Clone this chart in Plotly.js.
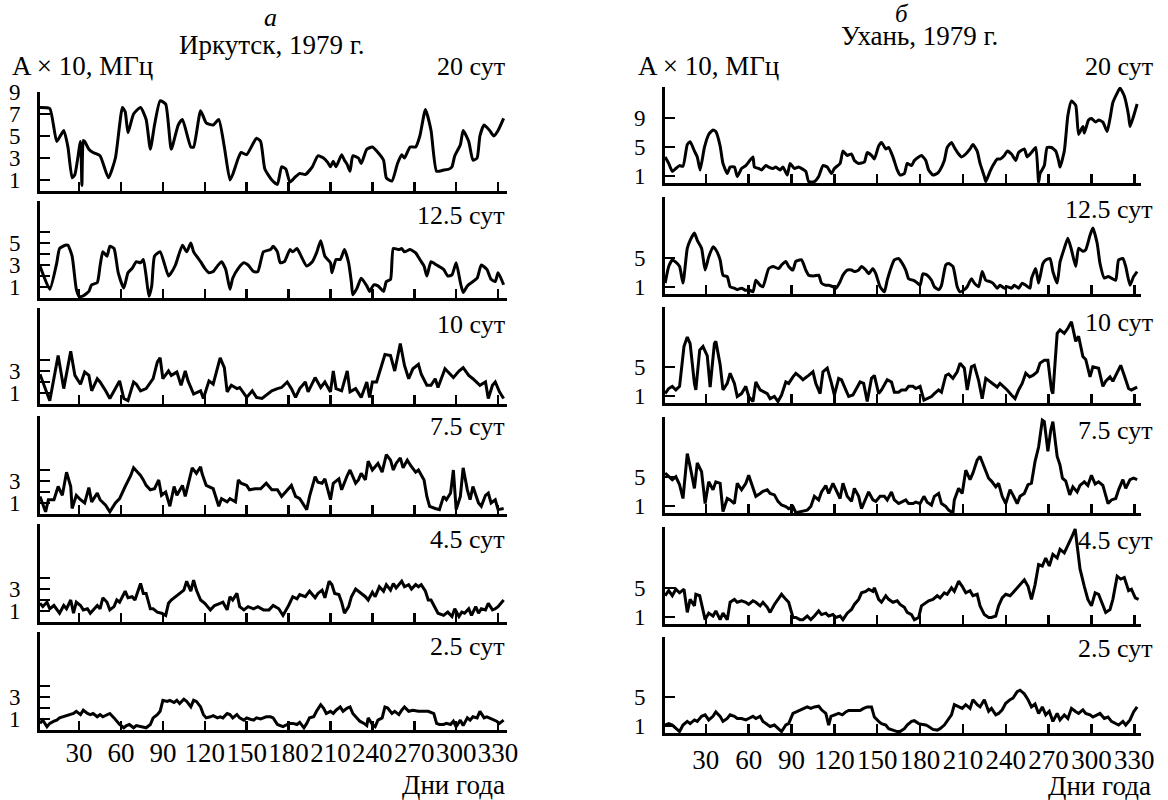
<!DOCTYPE html>
<html>
<head>
<meta charset="utf-8">
<script src="https://cdn.plot.ly/plotly-3.0.1.min.js"></script>
<style>
  html, body { margin: 0; padding: 0; background: #fff; }
  #chart { width: 1168px; height: 800px; }
</style>
</head>
<body>
<div id="chart"></div>
<script>
// ---- Irkutsk, 1979: amplitude (A x 10, MHz) of the planetary-wave components ----
const irkDay20 = [2,9,14,19,22,25,27,31,32,33,34,37,40,45,51,56,61,63,65,69,74,78,81,84,88,92,96,101,104,110,112,117,121,126,130,134,138,140,144,146,150,157,160,163,168,172,175,178,181,185,188,192,197,201,205,208,210,212,214,218,220,222,224,226,230,232,236,240,244,248,250,254,258,261,263,267,271,274,278,282,286,291,295,297,299,303,305,309,312,315,317,320,324,327,330,334];
const irkAmp20 = [7.6,7.5,4.5,5.5,4.0,1.2,1.5,4.5,0.5,4.6,4.5,3.8,3.5,3.2,1.2,3.0,7.6,7.2,5.3,7.0,7.6,6.5,3.8,6.0,8.2,7.9,3.8,6.0,6.5,4.0,4.0,7.3,6.2,6.0,6.5,4.0,1.0,1.5,3.0,3.5,3.3,4.8,4.5,2.0,1.0,0.6,2.2,2.0,0.8,1.3,1.6,1.5,2.2,3.2,3.0,2.6,2.2,2.7,2.2,3.3,2.8,2.4,1.8,3.2,3.0,2.5,3.8,4.0,3.5,2.8,1.2,0.9,2.5,3.3,3.0,4.0,4.0,5.0,7.4,5.5,1.8,1.9,2.0,2.2,3.2,4.2,5.5,4.5,2.8,3.0,5.0,6.0,5.5,5.0,5.5,6.6];

const irkDay12 = [2,9,14,16,20,22,25,28,30,33,37,39,43,45,47,50,52,55,58,62,65,68,71,74,76,78,80,82,84,88,94,96,99,104,107,110,112,117,120,123,126,129,132,135,138,140,144,148,151,155,158,162,167,169,172,174,177,181,183,186,189,193,197,200,203,206,210,211,214,217,220,223,225,226,229,232,236,238,241,244,248,250,253,255,259,261,263,267,271,274,277,279,282,286,291,294,297,300,303,305,308,311,315,318,322,325,328,330,334];
const irkAmp12 = [2.9,0.8,3.2,4.5,4.8,4.8,3.8,0.8,0.15,0.2,0.6,1.2,1.4,2.9,4.2,3.8,4.7,4.5,2.3,0.9,2.3,2.7,3.3,3.2,3.5,2.0,0.15,1.1,3.8,4.2,2.0,2.3,3.0,4.8,4.2,5.0,4.2,3.3,2.7,2.3,2.4,2.9,3.3,2.6,0.8,1.8,2.7,3.2,3.0,2.4,2.4,4.2,4.4,4.7,4.2,3.2,3.3,4.4,4.2,4.5,3.8,2.9,3.3,4.1,5.2,3.8,3.2,2.3,3.5,3.5,4.4,3.2,1.4,0.3,0.9,1.8,1.1,0.6,1.2,1.1,0.6,1.5,1.7,4.5,4.4,4.5,4.2,4.4,4.1,3.5,2.9,2.0,3.3,3.0,2.6,2.0,2.1,3.2,1.4,0.5,1.1,1.4,1.8,3.0,2.6,1.7,1.5,2.3,1.2];

const irkDay10 = [2,9,15,19,24,27,31,34,37,39,43,45,49,52,56,59,62,65,69,71,74,78,83,86,88,90,94,96,100,103,106,108,112,117,119,123,126,131,134,136,139,143,145,150,154,157,161,164,168,172,175,179,182,185,188,192,194,199,203,206,210,212,214,218,222,224,228,232,236,238,240,243,249,253,256,260,263,266,269,273,275,279,282,285,287,292,294,298,302,305,309,312,317,321,323,326,328,331,334];
const irkAmp10 = [2.7,0.3,4.4,1.4,4.8,2.6,1.8,2.9,2.6,1.2,2.3,2.0,1.2,0.5,1.4,2.1,0.5,0.3,2.0,1.8,1.2,1.4,2.3,3.8,4.2,2.3,3.0,2.6,2.9,1.7,3.0,2.1,0.9,1.2,0.5,2.1,1.8,4.2,3.3,1.1,1.7,1.4,1.5,0.6,1.2,0.6,0.5,0.8,1.2,1.4,1.5,2.0,1.4,0.6,1.4,2.0,1.1,2.4,1.5,2.0,1.1,3.0,1.4,1.2,3.0,1.1,1.4,0.6,2.0,0.6,2.0,2.0,4.5,4.4,3.0,5.5,3.5,2.3,3.2,3.6,2.7,1.7,1.7,2.3,1.5,3.2,2.9,2.4,3.0,3.3,2.6,2.3,1.7,2.0,0.5,1.7,2.0,1.1,0.5];

const irkDay7 = [2,6,8,12,15,18,21,24,25,28,31,34,37,39,43,45,49,52,56,59,63,67,69,74,76,78,81,84,87,89,92,95,98,100,104,106,111,114,117,118,121,126,130,132,136,138,142,144,146,150,152,156,160,164,168,172,175,179,182,185,188,193,195,199,201,204,206,210,212,216,218,222,224,228,230,232,235,237,240,242,244,247,250,253,255,257,260,262,265,268,271,273,277,279,281,285,288,291,293,296,298,300,303,305,308,310,312,316,318,321,323,325,328,330,334];
const irkAmp7 = [1.6,0.2,1.3,1.3,2.5,1.7,3.8,2.5,0.5,1.7,1.3,1.0,2.4,1.1,1.9,1.3,0.8,0.2,1.0,1.4,2.5,3.5,4.2,3.5,3.1,2.6,2.2,2.3,3.1,1.7,2.0,0.7,2.5,1.7,2.6,1.6,4.2,3.7,4.3,3.7,2.6,2.3,0.7,1.4,1.1,1.4,1.1,3.1,2.8,2.6,2.2,2.3,2.3,2.8,2.2,2.2,1.6,2.2,2.6,1.6,1.4,0.4,1.6,3.4,2.9,2.8,3.2,1.3,2.8,3.2,2.2,3.5,4.0,2.8,3.1,3.7,3.1,4.8,4.0,4.3,4.6,3.8,5.4,4.9,4.0,4.6,5.1,4.2,4.9,4.3,3.8,4.0,3.1,1.6,0.7,0.5,0.4,1.6,1.3,1.9,4.0,0.4,1.6,4.2,2.2,1.3,2.5,1.0,0.7,1.7,1.9,1.0,1.3,0.4,0.5];

const irkDay4 = [2,4,7,9,12,14,16,19,21,24,26,28,31,33,36,38,40,43,45,47,50,52,55,57,59,63,65,68,70,74,76,78,81,83,86,89,92,94,96,99,102,105,107,110,112,114,117,120,124,127,131,133,136,138,140,143,145,148,151,155,158,162,166,169,173,176,180,183,186,188,192,195,199,201,204,206,209,211,213,216,218,220,223,225,228,231,235,237,240,242,245,248,250,253,255,257,261,263,266,268,271,273,275,278,280,282,285,287,291,294,297,299,302,304,306,309,311,314,316,318,321,323,326,328,330,334];
const irkAmp4 = [1.7,1.4,1.8,1.2,1.5,1.2,0.8,1.5,1.2,2.0,0.8,1.8,1.5,1.1,1.2,0.8,1.1,1.5,1.2,2.2,1.8,1.1,1.4,2.0,1.8,2.8,2.2,2.3,2.0,3.5,2.6,2.6,1.2,1.2,0.9,0.8,0.6,1.7,2.0,2.3,2.6,2.9,3.7,2.8,3.8,2.9,2.0,1.7,1.1,1.5,1.7,1.8,1.1,2.3,2.0,2.6,1.4,1.1,1.4,1.2,1.4,1.1,1.1,1.5,1.2,0.6,1.5,2.3,2.1,2.5,2.3,2.8,2.2,2.6,2.9,2.2,3.7,3.4,2.6,2.5,1.8,0.8,1.4,2.3,3.0,2.7,2.3,2.0,2.7,2.3,3.2,2.8,3.4,2.9,3.5,3.1,3.7,3.2,3.4,3.0,3.4,3.2,3.4,2.8,2.0,2.0,1.2,0.8,0.6,0.9,0.5,1.2,0.5,0.9,0.8,1.2,0.6,1.4,0.8,1.2,1.1,1.7,1.1,1.2,1.4,2.0];

const irkDay2 = [2,4,7,9,12,14,16,19,21,24,26,28,31,33,36,38,40,43,45,47,50,52,55,57,59,62,64,66,69,71,74,76,78,81,83,86,88,90,93,95,98,100,102,105,107,110,112,114,117,119,121,124,126,129,131,133,136,138,140,143,145,148,150,152,155,157,160,162,164,167,169,172,174,176,179,181,183,186,188,191,193,195,198,200,203,205,207,210,212,214,217,219,222,224,226,229,231,234,236,237,240,242,244,247,249,251,254,256,259,261,263,266,269,273,277,280,284,286,288,291,293,296,298,300,303,305,308,310,312,315,317,320,322,324,327,329,331,334];
const irkAmp2 = [0.6,0.9,0.3,0.6,0.8,0.9,1.1,1.2,1.3,1.4,1.5,1.7,1.4,1.8,1.5,1.4,1.5,1.2,1.4,1.2,1.4,1.5,1.1,0.8,0.5,0.2,0.4,0.5,0.2,0.4,0.3,0.2,0.2,0.5,1.1,1.4,1.7,2.7,2.6,2.7,2.5,2.7,2.4,2.8,2.6,2.1,2.7,2.6,2.1,1.4,1.1,1.2,1.3,1.1,1.2,1.1,1.5,1.4,1.1,1.4,1.1,0.9,1.1,1.0,0.9,1.1,1.0,1.1,1.2,1.2,1.1,0.5,0.4,0.3,0.5,0.6,0.6,0.5,0.7,0.2,0.6,1.1,1.2,1.7,2.3,2.0,1.5,1.7,1.5,1.8,2.1,1.7,2.0,2.1,1.5,1.1,0.8,0.6,0.4,1.1,0.5,0.3,0.9,1.1,2.1,2.0,1.5,1.7,1.4,1.8,2.1,1.7,1.8,1.7,1.7,1.7,1.5,0.6,0.5,0.5,0.6,0.5,0.8,0.3,0.9,0.4,1.1,0.9,1.2,1.1,1.7,1.1,1.2,1.1,0.9,0.8,0.6,0.9];

// ---- Wuhan, 1979 ----
const wuhDay20 = [1.5,4,6.5,9,11.6,14,17,19,22,24,26,29,32,35,37,40,42,45,47,50,52,55,58,60,63,64,67,69,72,74,77,79,82,84,87,89,92,95,97,100,102,106,109,112,115,118,120,124,126,129,132,134,137,141,143,146,148,151,153,156,158,161,164,166,169,171,174,176,179,181,184,186,189,192,194,197,199,202,204,207,209,212,215,217,220,222,225,226,229,231,234,236,239,241,244,247,249,253,255,258,261,263,264,267,269,272,275,277,278,281,283.5,286,289,291,294,295,298,300,303,305,308,311,313,315,318,320,323,326,327,329,332];
const wuhAmp20 = [3.6,2.7,1.6,2.0,2.4,2.3,5.3,5.7,4.4,3.6,1.8,4.9,6.7,7.3,7.1,5.1,2.7,1.3,2.2,2.2,0.9,2.0,2.4,2.9,3.6,2.2,2.0,1.8,2.4,2.2,2.0,2.2,1.8,2.2,1.1,2.7,2.0,2.2,2.0,1.6,0.2,0.2,0.9,2.4,2.2,1.3,2.0,2.7,4.4,3.8,4.0,3.1,2.7,2.9,4.2,3.8,3.3,5.1,5.6,4.7,4.9,3.6,1.8,1.1,1.3,2.7,2.4,3.1,3.6,3.8,3.1,1.8,1.1,1.3,1.8,3.1,4.9,5.6,4.9,4.0,3.6,4.0,4.7,5.3,4.4,2.7,0.9,0.2,1.6,2.4,3.3,3.3,3.8,4.4,4.0,3.1,4.2,4.7,3.6,4.2,4.9,0.1,1.3,2.4,4.9,4.9,4.4,3.1,2.2,4.4,9.3,11.3,10.7,6.7,7.8,6.9,8.7,8.9,8.4,8.7,8.4,7.1,8.9,11.1,12.4,13.1,12.0,9.3,7.8,8.9,10.9];

const wuhDay12 = [1.5,4,6.5,9,11.6,14,17,19,22,24,27,29.5,32,35,37,40,42,45,47,50,52,55,58,60,63,65,68,70,74,77,81,83,86,88,91,93,97,100,102,106,109,111,114,116,119,121,124,126,129,132,134,137,139,142,144,147,149,152,155,157,160,162,165,167,170,172,175,177,180,182,185,188,190,193,195,198,200,203,206,208,211,213,216,218,221,223.5,226,229,231,234,236,239,241,244,246,249,251.5,254,257,258,261,263,266,268,271,273,276,278,281,283.5,286,289,291,294,296,299,301,304,306,309,311.6,314,317,319,322,324,327,329.5,332];
const wuhAmp12 = [1.5,3.8,4.7,4.4,3.8,1.5,6.3,7.4,8.4,7.4,6.3,3.3,5.1,6.5,6.1,4.7,2.6,2.4,1.0,0.8,0.6,0.8,0.5,0.6,0.3,1.9,1.2,1.0,3.5,3.8,3.5,4.0,4.5,3.8,3.3,4.5,4.7,3.3,2.6,2.5,2.6,1.5,1.2,1.2,1.0,0.8,1.7,2.6,3.3,3.3,3.1,3.3,3.8,3.3,2.8,3.5,2.8,1.0,0.3,1.9,3.8,4.7,4.9,4.4,3.3,2.1,1.9,1.7,1.2,2.8,2.6,1.9,1.0,0.6,1.2,4.0,4.2,3.8,1.0,0.3,0.6,1.0,2.1,1.5,1.0,3.1,1.9,1.7,1.5,0.8,1.2,0.8,1.0,0.8,1.2,0.8,1.5,1.2,0.8,2.1,3.5,1.5,4.2,4.7,4.9,3.1,1.5,4.4,6.3,7.7,6.1,3.8,6.3,5.9,6.1,8.1,9.1,7.0,4.2,2.2,2.4,2.2,1.9,4.7,4.9,3.8,1.2,2.4,3.1];

const wuhDay10 = [1.5,4,6.5,9,11.6,14.7,17,19,22,23,25.7,28,31,33,36,37,40,42,45,47,50,52,55,58,60,63,65,68,70,73,75,78,80.5,83,86,88,91,93,96,98,102,105,107,110,112,115,118,120,123,125,128,130,133,135,138,140.5,143,146,148,151,153,157,160,162,165,167,170,172,175,177,180,182.7,185,188,190,193,195,198,200,203,206,208,211,213,216,218,221,223.5,226,229,231,234,236,239,241,244,246.5,249,251.5,254,256.7,259,262,264,267,269.5,272,273,276,278,281,283.5,286,289,291,294,296,299,301,305,308,310,313,315,318,320.5,323,326,328,332];
const wuhAmp10 = [1.3,2.0,2.3,1.8,2.3,7.8,9.1,8.2,2.7,1.8,7.3,7.8,6.5,2.2,8.2,8.5,5.3,1.8,2.7,4.1,2.7,0.9,1.3,2.3,0.9,0.2,2.9,1.8,1.6,1.3,0.6,0.9,0.2,1.1,2.9,2.7,3.6,4.1,3.6,3.2,3.8,4.3,2.7,1.3,4.3,4.8,2.7,1.1,3.4,3.2,1.8,0.9,1.1,1.8,2.9,2.7,0.2,3.4,3.8,1.3,1.8,3.2,2.9,1.5,1.5,1.8,1.8,2.3,2.3,2.0,2.3,0.4,0.6,0.9,1.3,1.8,1.5,3.8,4.0,3.4,4.3,5.5,4.8,1.8,5.0,5.2,3.1,0.6,3.4,2.9,2.7,2.2,2.7,2.2,1.8,1.1,0.6,1.8,2.7,4.1,3.6,3.8,4.3,5.5,5.9,5.9,1.8,1.3,9.6,10.1,9.6,10.3,11.2,8.5,9.2,6.4,6.0,3.6,5.0,4.8,2.3,3.0,3.6,3.0,4.1,5.2,3.8,2.0,1.8,2.2];

const wuhDay7 = [1.5,4,6.5,9,11.6,14,17,19,22,24,27,29.5,32,35,37,40,42,45,47,50,52,55,58,60,63,65,68,70,73,75,78,80.5,83,86,88,91,93,97,101,103.5,106,109,111,114,116,119,121,124,126,129,132,134,137,139,142,144,147,149,152,155,157,160,162,165,167,170,172,175,177,180,182.7,185,188,190,193,195,198,200,203,204,207,209.5,212,215,217,220,222,225,228,230,233,235,237.5,240,243,245,248,250,253,255.6,258,260.5,263,265.6,267,269.5,271.5,273,276,278,279.7,282,284.8,287,290,292,295,297.5,300,302.6,305,308,311.6,314,317,319,322,324,327,329.5,332];
const wuhAmp7 = [5.5,5.0,4.6,5.0,3.9,2.0,8.2,6.4,3.4,6.9,5.7,1.3,4.3,3.2,4.3,4.1,0.2,2.0,1.8,1.3,4.1,3.2,4.1,5.2,3.6,2.3,2.7,3.0,3.2,2.7,2.5,1.6,1.1,0.9,0.6,0.9,0.05,0.2,0.4,0.9,2.3,1.8,2.9,3.8,2.7,4.1,3.2,2.0,4.1,2.3,1.6,3.4,2.3,0.6,2.0,2.9,1.8,1.6,2.3,2.3,1.8,2.9,1.8,1.3,1.5,1.8,1.3,1.3,1.5,1.3,2.3,1.5,1.1,2.3,2.7,1.3,0.9,0.4,0.0,1.8,3.4,2.7,5.9,4.6,5.5,7.3,7.8,6.2,4.8,4.4,3.6,4.1,2.3,1.3,3.2,2.5,1.3,2.3,2.7,3.9,4.1,7.1,9.1,12.8,12.6,8.5,11.4,12.6,7.8,6.6,4.8,4.4,2.5,3.6,2.9,3.8,4.3,3.8,5.2,4.0,4.3,3.8,1.3,1.8,2.0,3.2,4.6,3.4,4.6,4.8,4.6];

const wuhDay4 = [1.5,4,6.5,9,11.6,14.7,17,19,22,23,25.7,28,29.5,32,35,37,40,42,45,47,50,52,55,58,60,63,65,68,70,73,75,78,80.5,83,86,88,91,93,96,98,101,103.5,106,109,111,114,116,119,121,124,126,129,132,134,137,139,142,144,147,148,151,153,156,158,161,164,166,169,171,174,176,179,181,184,186,189,192,194,197,199,202,204,207,209.5,212,215,217,220,222,225,228,230,233,235,237.5,240,243,245,248,250,253,255.6,258,260.5,263,265.6,268,270.5,273,276,278,281,283.5,286,288.6,290,292,295,297.5,300,302.6,305,308,310,313,315,318,320.5,323,326,328,330.7,333];
const wuhAmp4 = [3.9,4.6,3.9,4.8,4.3,4.8,1.6,3.4,2.5,4.1,3.9,2.0,0.6,1.5,1.1,1.8,0.6,1.5,0.6,3.0,3.4,3.0,3.2,3.0,2.7,3.2,3.0,2.5,3.0,2.3,1.6,2.7,3.4,4.1,3.4,3.0,0.9,0.9,0.6,0.6,1.1,0.6,1.1,1.8,1.3,1.5,1.1,1.3,0.9,1.1,0.6,1.5,2.0,2.7,3.4,4.3,4.5,4.8,4.5,5.0,3.4,3.0,3.9,3.4,3.0,3.2,2.7,2.3,1.6,1.3,0.6,0.9,2.5,3.0,3.2,3.4,3.9,3.6,4.3,4.1,5.0,4.5,5.9,5.2,4.3,4.6,3.9,4.1,2.5,1.3,0.9,0.9,1.1,2.5,3.6,4.1,3.9,4.3,5.0,5.4,6.1,5.2,3.4,5.4,8.2,8.0,9.1,8.0,9.6,9.1,10.3,9.8,10.8,11.9,13.1,10.8,7.6,5.2,3.4,2.5,4.3,4.1,2.5,1.6,2.0,3.4,6.6,6.2,6.4,4.6,4.8,3.6,3.4];

const wuhDay2 = [1.5,4,6.5,9,11.6,14,17,19,22,24,27,29.5,32,35,37,40,42,45,47,50,52,55,58,60,63,65,68,70,73,75,78,80.5,83,86,88,91,93,96,98,101,103.5,106,109,111,114,116,117.6,120,123,125.6,128,130,133,135,138,140.5,143,146,148,151,153,156,158,161,164,166,169,171,174,176,179,181,184,186,189,192,194,197,199,202,204,207,209.5,212,215,217,220,222,225,228,230,233,235,237.5,240,243,245,248,250,253,255.6,258,260.5,263,265.6,268,270.5,273,276,278,281,283.5,286,288.6,291,294,296,299,301,304,306,309,311.6,314,317,319,322,324,327,329.5,332];
const wuhAmp2 = [1.1,1.3,1.1,0.6,0.2,1.1,1.6,1.3,1.8,1.6,2.3,2.5,1.8,2.3,2.9,2.3,1.6,2.0,2.5,2.3,2.0,2.0,1.8,2.0,2.3,2.0,2.3,1.6,1.1,0.9,1.1,0.6,0.2,1.1,1.3,2.7,2.9,3.2,3.4,3.6,3.4,3.6,3.7,3.2,2.7,1.1,2.3,2.5,2.7,2.5,2.9,3.1,3.1,3.2,3.1,3.4,3.6,3.6,2.2,1.6,1.3,1.1,0.6,0.4,0.2,0.2,0.6,1.1,1.6,1.7,1.3,1.2,1.1,0.9,0.5,0.4,0.6,1.1,1.6,2.5,3.9,3.6,3.4,3.9,3.4,4.6,3.9,3.6,4.6,3.0,3.4,2.5,2.7,3.2,4.1,4.6,4.8,5.7,5.9,5.4,4.6,3.6,4.0,2.7,3.6,2.5,3.0,1.6,2.7,1.8,2.5,2.0,3.4,3.0,2.7,3.2,2.7,2.5,2.2,2.5,2.7,2.0,2.2,1.6,1.3,1.1,1.6,1.1,1.8,2.9,3.6];

// Panel labels (period of the component) and axis tick values
const periodLabels = ['20 сут', '12.5 сут', '10 сут', '7.5 сут', '4.5 сут', '2.5 сут'];
const dayTicks = [30, 60, 90, 120, 150, 180, 210, 240, 270, 300, 330];
const irkTickVals = [[1,3,5,7,9],[1,2,3,4,5,6],[1,2,3,4],[1,2,3,4],[1,2,3,4],[1,2,3,4]];
const irkTickText = [['1','3','5','7','9'],['1','','3','','5',''],['1','','3',''],['1','','3',''],['1','','3',''],['1','','3','']];
const wuhTickVals = [[1,5,9],[1,5],[1,5],[1,5],[1,5],[1,5]];
const wuhTickText = [['1','5','9'],['1','5'],['1','5'],['1','5'],['1','5'],['1','5']];

const irkSeries = [[irkDay20, irkAmp20], [irkDay12, irkAmp12], [irkDay10, irkAmp10],
                   [irkDay7, irkAmp7], [irkDay4, irkAmp4], [irkDay2, irkAmp2]];
const wuhSeries = [[wuhDay20, wuhAmp20], [wuhDay12, wuhAmp12], [wuhDay10, wuhAmp10],
                   [wuhDay7, wuhAmp7], [wuhDay4, wuhAmp4], [wuhDay2, wuhAmp2]];

// ---- geometry (pixels of the 1168 x 800 figure) ----
const W = 1168, H = 800;
const px = v => v / W;
const py = v => 1 - v / H;
const FONT = "'Liberation Serif', 'Times New Roman', Times, serif";

const columns = [
  { series: irkSeries, left: 40, right: 507, xRange: [2, 336.4], unit: 11, labelShift: -3,
    bands: [[92,191],[201,298],[308,404],[416,514],[524,622],[632,730]],
    tickVals: irkTickVals, tickText: irkTickText },
  { series: wuhSeries, left: 665, right: 1141, xRange: [1.4, 334.7], unit: 7.25, labelShift: 1,
    bands: [[87,183],[197,294],[307,403],[417,513],[527,624],[637,733]],
    tickVals: wuhTickVals, tickText: wuhTickText }
];

const traces = [];
const layout = {
  width: W, height: H,
  margin: { l: 0, r: 0, t: 0, b: 0 },
  paper_bgcolor: '#fff', plot_bgcolor: 'rgba(0,0,0,0)',
  showlegend: false,
  font: { family: FONT, color: '#000' },
  annotations: []
};

let n = 0;
columns.forEach(col => {
  col.series.forEach((s, i) => {
    n += 1;
    const [top, bottom] = col.bands[i];
    const smooth = i < 2;
    traces.push({
      type: 'scatter', mode: 'lines',
      x: s[0], y: s[1],
      xaxis: 'x' + n, yaxis: 'y' + n,
      line: { color: '#000', width: 3, shape: smooth ? 'spline' : 'linear', smoothing: 0.5 },
      hoverinfo: 'skip'
    });
    layout['xaxis' + n] = {
      domain: [px(col.left), px(col.right)],
      range: col.xRange, anchor: 'y' + n,
      showline: true, linecolor: '#000', linewidth: 3,
      ticks: 'inside', ticklen: 9, tickwidth: 2.5, tickcolor: '#000',
      tickmode: 'array', tickvals: dayTicks, tickangle: 0,
      showticklabels: i === 5, ticklabelstandoff: col.labelShift,
      tickfont: { family: FONT, size: 27, color: '#000' },
      showgrid: false, zeroline: false, fixedrange: true
    };
    layout['yaxis' + n] = {
      domain: [py(bottom), py(top)],
      range: [0, (bottom - top) / col.unit], anchor: 'x' + n,
      showline: true, linecolor: '#000', linewidth: 3,
      ticks: 'inside', ticklen: 10, tickwidth: 2.5, tickcolor: '#000',
      tickmode: 'array', tickvals: col.tickVals[i], ticktext: col.tickText[i],
      ticklabelstandoff: 12,
      tickfont: { family: FONT, size: 23, color: '#000' },
      showgrid: false, zeroline: false, fixedrange: true
    };
  });
});

function note(text, x, y, xanchor, size, italic) {
  layout.annotations.push({
    text: italic ? '<i>' + text + '</i>' : text,
    xref: 'paper', yref: 'paper', x: px(x), y: py(y),
    xanchor: xanchor, yanchor: 'middle', showarrow: false,
    font: { family: FONT, size: size, color: '#000' }
  });
}

// Column headings
note('а', 270, 18, 'center', 26, true);
note('Иркутск, 1979 г.', 272, 45, 'center', 27);
note('б', 902, 14, 'center', 25, true);
note('Ухань, 1979 г.', 919, 36, 'center', 27);
note('A × 10, МГц', 10, 66, 'left', 27);
note('A × 10, МГц', 636, 66, 'left', 27);

// Period labels, top-right of each panel
const irkLabelY = [66, 215, 324, 426, 539, 646];
const wuhLabelY = [66, 210, 322, 430, 540, 648];
periodLabels.forEach((t, i) => {
  note(t, 507, irkLabelY[i], 'right', 26);
  note(t, 1155, wuhLabelY[i], 'right', 26);
});

// X-axis titles
note('Дни года', 507, 785, 'right', 27);
note('Дни года', 1153, 786, 'right', 27);

Plotly.newPlot('chart', traces, layout, { staticPlot: true, displayModeBar: false });
</script>
</body>
</html>
